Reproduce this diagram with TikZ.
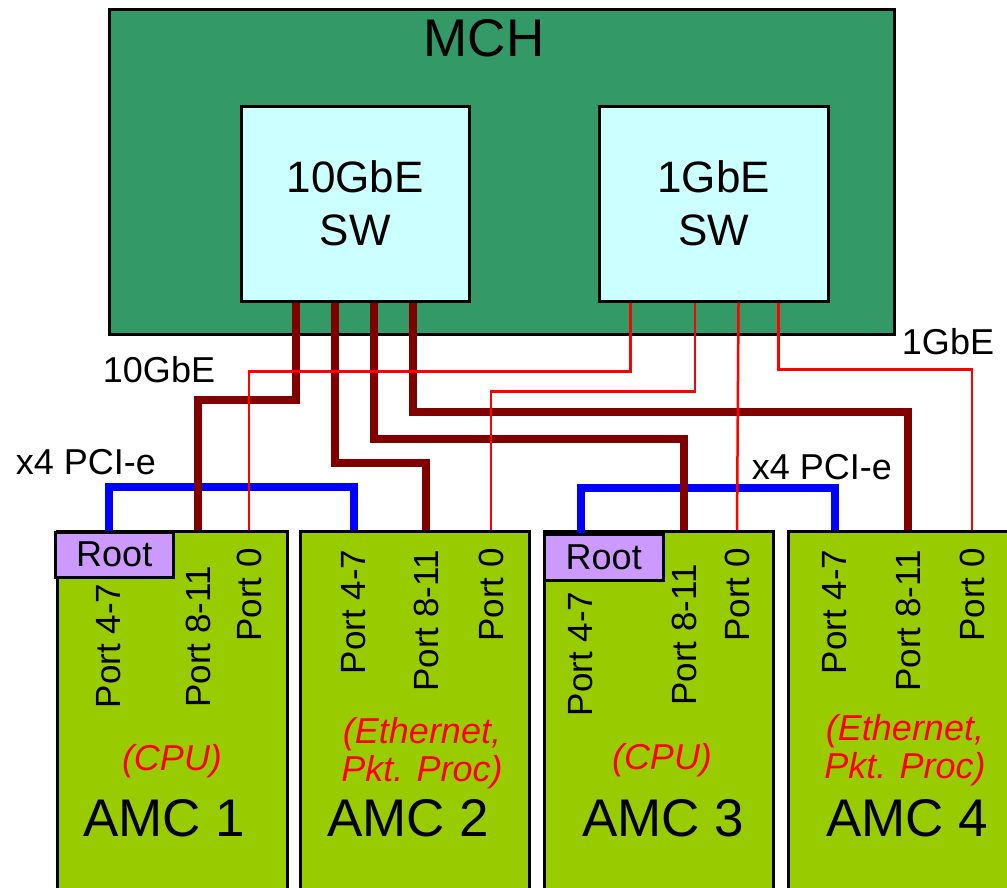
\documentclass[tikz,border=0pt]{standalone}
\usepackage{fontspec}
\setmainfont{Liberation Sans}
\usetikzlibrary{calc}
\definecolor{mchg}{HTML}{339966}
\definecolor{swc}{HTML}{CCFFFF}
\definecolor{amcg}{HTML}{99CC00}
\definecolor{rootc}{HTML}{CC99FF}
\definecolor{tenred}{HTML}{800000}
\tikzset{
  box/.style={draw=black, line width=2.5pt, inner sep=0pt, anchor=north west},
  mchbox/.style={box, fill=mchg},
  swbox/.style={box, fill=swc, align=center, font=\fontsize{44}{53}\selectfont},
  amcbox/.style={box, fill=amcg},
  rootbox/.style={box, fill=rootc, font=\fontsize{36}{40}\selectfont},
  big/.style={font=\fontsize{53}{60}\selectfont, inner sep=0pt},
  lab/.style={font=\fontsize{36}{40}\selectfont, inner sep=0pt},
  port/.style={font=\fontsize{35}{40}\selectfont, rotate=90, inner sep=0pt},
  note/.style={font=\fontsize{36}{38}\selectfont\itshape, text=red, align=center, inner sep=0pt},
  tenge/.style={draw=tenred, line width=8pt},
  onege/.style={draw=red, line width=2.5pt},
  pcie/.style={draw=blue, line width=8pt},
}
\begin{document}
\begin{tikzpicture}[x=1pt, y=-1pt]
    \useasboundingbox (0,0) rectangle (1007,887);
    % shelf manager and its two switches
    \node[mchbox, minimum width=785pt, minimum height=325pt] (mch) at (108,8) {};
    \node[big] (mcht) at (484,38) {MCH};
    \node[swbox, minimum width=228pt, minimum height=195pt] (sw10) at (240,105) {10GbE\\SW};
    \node[swbox, minimum width=229pt, minimum height=195pt] (sw1) at (598,105) {1GbE\\SW};
    % the four AMC cards
    \node[amcbox, minimum width=230pt, minimum height=365pt] (amc1) at (56,530) {};
    \node[amcbox, minimum width=229pt, minimum height=365pt] (amc2) at (299,530) {};
    \node[amcbox, minimum width=229pt, minimum height=365pt] (amc3) at (543,530) {};
    \node[amcbox, minimum width=229pt, minimum height=365pt] (amc4) at (787,530) {};
    \node[rootbox, minimum width=118pt, minimum height=45pt] (root1) at (54,531) {Root};
    \node[rootbox, minimum width=119pt, minimum height=46pt] (root3) at (543,533) {Root};
    % port labels
    \node[port] (p47a) at (109,646) {Port 4-7};
    \node[port] (p811a) at (198,637) {Port 8-11};
    \node[port] (p0a) at (249,595) {Port 0};
    \node[port] (p47b) at (354,612) {Port 4-7};
    \node[port] (p811b) at (426,621) {Port 8-11};
    \node[port] (p0b) at (491,595) {Port 0};
    \node[port] (p47c) at (581,654) {Port 4-7};
    \node[port] (p811c) at (684,635) {Port 8-11};
    \node[port] (p0c) at (737,595) {Port 0};
    \node[port] (p47d) at (835,612) {Port 4-7};
    \node[port] (p811d) at (908,621) {Port 8-11};
    \node[port] (p0d) at (972,595) {Port 0};
    % card names
    \node[note] (n1) at (172,761) {(CPU)};
    \node[note] (n2) at (422,753) {(Ethernet,\\Pkt. Proc)};
    \node[note] (n3) at (662,760) {(CPU)};
    \node[note] (n4) at (905,750) {(Ethernet,\\Pkt. Proc)};
    \node[big] (a1) at (164,818) {AMC 1};
    \node[big] (a2) at (408,818) {AMC 2};
    \node[big] (a3) at (663,818) {AMC 3};
    \node[big] (a4) at (907,818) {AMC 4};
    % link labels
    \node[lab] (l10) at (159,370) {10GbE};
    \node[lab] (l1) at (948,342) {1GbE};
    \node[lab] (lpa) at (86,462) {x4 PCI-e};
    \node[lab] (lpb) at (822,467) {x4 PCI-e};
    % switch ports
    \foreach \f [count=\i] in {0.245,0.41,0.58,0.75}
      \coordinate (t\i) at ($(sw10.south west)!\f!(sw10.south east)$);
    \foreach \f [count=\i] in {0.14,0.42,0.607,0.78}
      \coordinate (o\i) at ($(sw1.south west)!\f!(sw1.south east)$);
    % PCI-e links
    \draw[pcie] (p47a |- root1.north) -- ++(0,-44) -| (p47b |- amc2.north);
    \draw[pcie] (p47c |- root3.north) -- ++(0,-45) -| (p47d |- amc4.north);
    % 10GbE links
    \draw[tenge] (t1) -- ++(0,97) -| (p811a |- amc1.north);
    \draw[tenge] (t2) -- ++(0,160) -| (p811b |- amc2.north);
    \draw[tenge] (t3) -- ++(0,136) -| (p811c |- amc3.north);
    \draw[tenge] (t4) -- ++(0,109) -| (p811d |- amc4.north);
    % 1GbE links
    \draw[onege] (o1) -- ++(0,69) -| (p0a |- amc1.north);
    \draw[onege] (o2) -- ++(0,89) -| (p0b |- amc2.north);
    \draw[onege] (o3) -- (p0c |- amc3.north);
    \draw[onege] (o4) -- ++(0,67) -| (p0d |- amc4.north);
\end{tikzpicture}
\end{document}
